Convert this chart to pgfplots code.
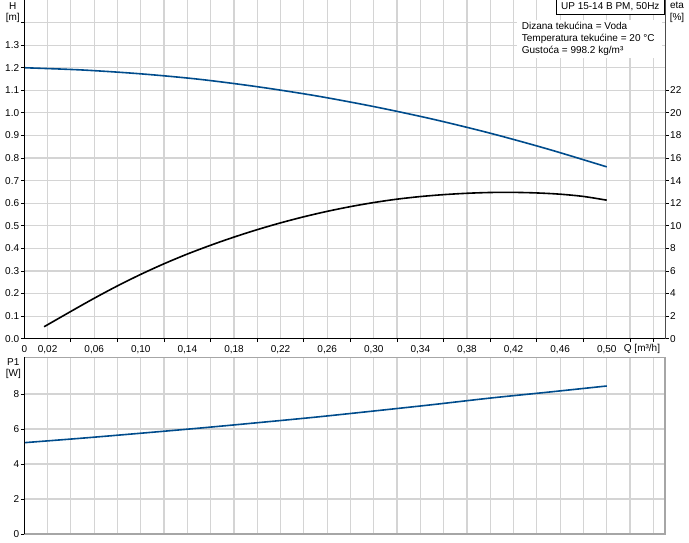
\documentclass[border=0pt]{standalone}
\usepackage{pgfplots}
\pgfplotsset{compat=1.18}
\usepackage{fontspec}
\setmainfont{Liberation Sans}
\definecolor{hblue}{RGB}{0,76,140}
\definecolor{gridc}{RGB}{212,212,212}
\begin{document}
\begin{tikzpicture}[font=\fontsize{10}{12}\selectfont]
\path[use as bounding box] (0,0) rectangle (689pt,542pt);
\pgfplotsset{
  every tick label/.append style={font=\fontsize{10}{12}\selectfont},
  /pgf/number format/assume math mode=true,
  myax/.style={scale only axis, width=640.7pt, clip=false, xmin=0, xmax=0.55,
    axis line style={draw=none}, tick align=outside, major tick length=3.5pt,
    tick style={black, line width=0.8pt},
    major grid style={gridc, line width=1.2pt}}
}
% ---------------- top: H ----------------
\begin{axis}[myax, at={(24.3pt,203.3pt)}, anchor=south west, height=338.7pt,
  ymin=0, ymax=1.5, grid=major,
  xtick pos=bottom, ytick pos=left,
  xtick={0,0.02,0.06,0.10,0.14,0.18,0.22,0.26,0.30,0.34,0.38,0.42,0.46,0.50},
  xticklabels={0,{0,02},{0,06},{0,10},{0,14},{0,18},{0,22},{0,26},{0,30},{0,34},{0,38},{0,42},{0,46},{0,50}},
  xtick style={draw=none},
  extra x ticks={0.04,0.08,0.12,0.16,0.20,0.24,0.28,0.32,0.36,0.40,0.44,0.48,0.52,0.54},
  extra x tick labels={},
  extra x tick style={grid=major, xtick style={draw=black}},
  ytick={0,0.1,0.2,0.3,0.4,0.5,0.6,0.7,0.8,0.9,1.0,1.1,1.2,1.3,1.4},
  yticklabels={0.0,0.1,0.2,0.3,0.4,0.5,0.6,0.7,0.8,0.9,1.0,1.1,1.2,1.3,{}},
  yticklabel style={inner sep=1.5pt},
]
\addplot[hblue, line width=1.6pt, smooth] coordinates {
(0,1.200) (0.05,1.190) (0.10,1.173) (0.15,1.149) (0.20,1.116) (0.25,1.076)
(0.30,1.028) (0.35,0.973) (0.40,0.910) (0.45,0.839) (0.50,0.761)};
\draw[black, line width=1pt] (rel axis cs:0,0)--(rel axis cs:1,0);
\draw[black, line width=1pt] (rel axis cs:0,0)--(rel axis cs:0,1);
\end{axis}
% ---------------- top: eta ----------------
\begin{axis}[myax, at={(24.3pt,203.3pt)}, anchor=south west, height=338.7pt,
  ymin=0, ymax=30, xtick=\empty, ytick pos=right,
  ytick={0,2,4,6,8,10,12,14,16,18,20,22},
  yticklabels={0,2,4,6,8,10,12,14,16,18,20,22},
  yticklabel style={inner sep=1.5pt},
]
\addplot[black, line width=1.6pt, smooth] coordinates {
(0.017,1.06) (0.04,2.42) (0.06,3.58) (0.08,4.68) (0.10,5.70) (0.12,6.64)
(0.14,7.50) (0.16,8.28) (0.18,9.00) (0.20,9.66) (0.22,10.26) (0.24,10.80)
(0.26,11.28) (0.28,11.70) (0.30,12.06) (0.32,12.36) (0.34,12.59) (0.36,12.76)
(0.38,12.88) (0.40,12.95) (0.42,12.96) (0.44,12.91) (0.46,12.80) (0.48,12.60)
(0.50,12.27)};
\draw[black!70, line width=1pt] (rel axis cs:1,0)--(rel axis cs:1,1);
\end{axis}
% ---------------- bottom: P1 ----------------
\begin{axis}[myax, at={(24.3pt,8pt)}, anchor=south west, height=176.7pt,
  ymin=0, ymax=10.1, grid=major,
  xtick pos=bottom, ytick pos=left,
  xtick={0.02,0.04,0.06,0.08,0.10,0.12,0.14,0.16,0.18,0.20,0.22,0.24,0.26,0.28,0.30,0.32,0.34,0.36,0.38,0.40,0.42,0.44,0.46,0.48,0.50,0.52,0.54},
  xticklabels={}, xtick style={draw=none},
  ytick={0,2,4,6,8}, yticklabels={0,2,4,6,8},
  yticklabel style={inner sep=1.5pt},
]
\addplot[hblue, line width=1.6pt, smooth] coordinates {
(0,5.22) (0.05,5.48) (0.10,5.76) (0.15,6.05) (0.20,6.36) (0.25,6.68)
(0.30,7.03) (0.35,7.39) (0.40,7.77) (0.45,8.11) (0.50,8.46)};
\draw[black!35, line width=1.3pt] (rel axis cs:0,0) rectangle (rel axis cs:1,1);
\draw[black, line width=1pt] (rel axis cs:0,0)--(rel axis cs:0,1);
\end{axis}
% ---------------- texts ----------------
\node[align=center, inner sep=0pt] at (12.7pt,529.5pt) {H\\[-0.5pt][m]};
\node[align=center, inner sep=0pt] at (677pt,529.5pt) {eta\\[-0.5pt][\%]};
\node[align=center, inner sep=0pt] at (13.3pt,173.3pt) {P1\\[-0.5pt][W]};
\node[inner sep=0pt] at (642pt,192.7pt) {Q [m³/h]};
\fill[white] (517pt,484pt) rectangle (662pt,522pt);
\node[anchor=west, inner sep=0pt] at (521.7pt,516pt) {Dizana tekućina = Voda};
\node[anchor=west, inner sep=0pt] at (521.7pt,503.5pt) {Temperatura tekućine = 20 °C};
\node[anchor=west, inner sep=0pt] at (521.7pt,491pt) {Gustoća = 998.2 kg/m³};
\draw[black, line width=0.8pt, fill=white] (556.7pt,528pt) rectangle (664pt,543pt);
\node[inner sep=0pt] at (610.3pt,535.3pt) {UP 15-14 B PM, 50Hz};
\end{tikzpicture}
\end{document}
